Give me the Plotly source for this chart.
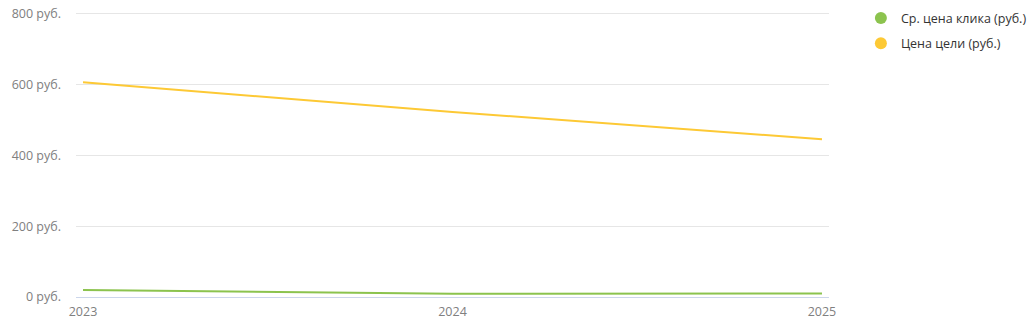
import plotly.graph_objects as go

years = [2023, 2024, 2025]
cpc = [20, 9, 10]
goal_cost = [607, 523, 446]
y_ticks = [0, 200, 400, 600, 800]
y_tick_labels = ["0 руб.", "200 руб.", "400 руб.", "600 руб.", "800 руб."]
series_names = ["Ср. цена клика (руб.)", "Цена цели (руб.)"]
colors = ["#8cc34e", "#fdc935"]

fig = go.Figure()
for name, vals, c in zip(series_names, [cpc, goal_cost], colors):
    fig.add_trace(go.Scatter(x=years, y=vals, name=name, mode="lines",
                             line=dict(color=c, width=2), showlegend=False,
                             legendgroup=name))
    fig.add_trace(go.Scatter(x=[None], y=[None], name=name, mode="markers",
                             marker=dict(color=c, size=11, symbol="circle"),
                             legendgroup=name, showlegend=True))

fig.update_layout(
    width=1031, height=329,
    margin=dict(l=76, r=202, t=12, b=32, autoexpand=False),
    paper_bgcolor="white", plot_bgcolor="white",
    font=dict(family="Open Sans", size=12.5, color="#808080"),
    showlegend=True,
    legend=dict(xref="container", yref="container", x=0.835, y=0.99,
                xanchor="left", yanchor="top",
                font=dict(size=12.5, color="#333333"),
                itemsizing="constant", tracegroupgap=6),
    xaxis=dict(range=[2022.981, 2025.019], tickvals=years,
               ticktext=[str(y) for y in years], showgrid=False,
               showline=True, linecolor="#ccd6eb", linewidth=1,
               ticks="", zeroline=False, ticklabelstandoff=3),
    yaxis=dict(range=[0, 805.6], tickvals=y_ticks, ticktext=y_tick_labels,
               showgrid=True, gridcolor="#e6e6e6", gridwidth=1,
               zeroline=False, ticks="", showline=False,
               ticklabelstandoff=14),
)
fig.write_html("out.html")
